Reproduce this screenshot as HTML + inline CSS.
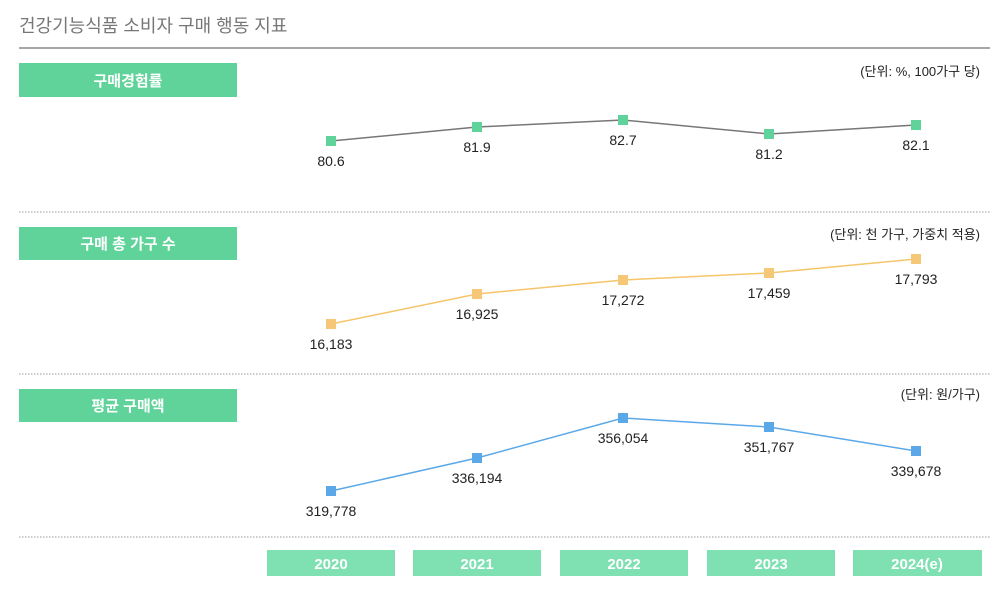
<!DOCTYPE html>
<html><head><meta charset="utf-8"><style>
body{margin:0;width:997px;height:585px;background:#fff;overflow:hidden;font-family:"Liberation Sans","Noto Sans CJK KR",sans-serif}
</style></head><body>
<svg width="997" height="585" xmlns="http://www.w3.org/2000/svg" font-family="Liberation Sans, Noto Sans CJK KR, sans-serif">
<text x="19" y="32" font-size="18" fill="#777">건강기능식품 소비자 구매 행동 지표</text>
<line x1="19" y1="48" x2="990" y2="48" stroke="#888" stroke-width="1.5"/>
<g fill="#5fd39a">
<rect x="19" y="63" width="218" height="34"/><rect x="19" y="227" width="218" height="33"/><rect x="19" y="389" width="218" height="33"/>
</g>
<g fill="#fff" font-size="15" font-weight="bold" text-anchor="middle">
<text x="128" y="86">구매경험률</text><text x="128" y="249">구매 총 가구 수</text><text x="128" y="411">평균 구매액</text>
</g>
<g font-size="13" fill="#222" text-anchor="end">
<text x="980" y="76">(단위: %, 100가구 당)</text>
<text x="980" y="239">(단위: 천 가구, 가중치 적용)</text>
<text x="980" y="399">(단위: 원/가구)</text>
</g>
<g stroke="#999" stroke-dasharray="1.5,1.5"><line x1="19" y1="212" x2="990" y2="212"/><line x1="19" y1="374" x2="990" y2="374"/><line x1="19" y1="537" x2="990" y2="537"/></g>
<polyline points="331,141 477,127 623,120 769,134 916,125" fill="none" stroke="#777" stroke-width="1.5"/>
<g fill="#5fd39a"><rect x="326" y="136" width="10" height="10"/><rect x="472" y="122" width="10" height="10"/><rect x="618" y="115" width="10" height="10"/><rect x="764" y="129" width="10" height="10"/><rect x="911" y="120" width="10" height="10"/></g>
<polyline points="331,324 477,294 623,280 769,273 916,259" fill="none" stroke="#f5c56a" stroke-width="1.5"/>
<g fill="#f7c778"><rect x="326" y="319" width="10" height="10"/><rect x="472" y="289" width="10" height="10"/><rect x="618" y="275" width="10" height="10"/><rect x="764" y="268" width="10" height="10"/><rect x="911" y="254" width="10" height="10"/></g>
<polyline points="331,491 477,458 623,418 769,427 916,451" fill="none" stroke="#5ba8e8" stroke-width="1.5"/>
<g fill="#5ba8e8"><rect x="326" y="486" width="10" height="10"/><rect x="472" y="453" width="10" height="10"/><rect x="618" y="413" width="10" height="10"/><rect x="764" y="422" width="10" height="10"/><rect x="911" y="446" width="10" height="10"/></g>
<g font-size="14" fill="#222" text-anchor="middle">
<text x="331" y="166">80.6</text><text x="477" y="152">81.9</text><text x="623" y="145">82.7</text><text x="769" y="159">81.2</text><text x="916" y="150">82.1</text>
<text x="331" y="349">16,183</text><text x="477" y="319">16,925</text><text x="623" y="305">17,272</text><text x="769" y="298">17,459</text><text x="916" y="284">17,793</text>
<text x="331" y="516">319,778</text><text x="477" y="483">336,194</text><text x="623" y="443">356,054</text><text x="769" y="452">351,767</text><text x="916" y="476">339,678</text>
</g>
<g fill="#7fe0b2"><rect x="267" y="550" width="128" height="26"/><rect x="413" y="550" width="128" height="26"/><rect x="560" y="550" width="128" height="26"/><rect x="707" y="550" width="128" height="26"/><rect x="853" y="550" width="129" height="26"/></g>
<g fill="#fff" font-size="15" font-weight="bold" text-anchor="middle">
<text x="331" y="569">2020</text><text x="477" y="569">2021</text><text x="624" y="569">2022</text><text x="771" y="569">2023</text><text x="917" y="569">2024(e)</text>
</g>
</svg>
</body></html>
